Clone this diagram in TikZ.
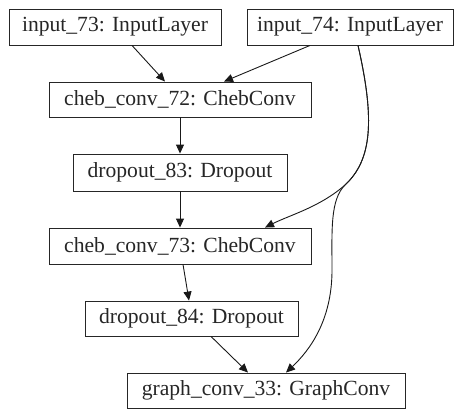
\documentclass[tikz,border=0pt]{standalone}
\usepackage{fontspec}
\setmainfont{Liberation Serif}
\usetikzlibrary{arrows.meta}
\begin{document}
\begin{tikzpicture}[x=1pt,y=-1pt,
  layer/.style={draw=black!85, line width=0.9pt, inner sep=0pt,
    font=\fontsize{21.6}{26}\selectfont, text=black!85},
  edge/.style={draw=black!90, line width=0.9pt,
    -{Triangle[length=9pt,width=8pt]}}]
\useasboundingbox (0,0) rectangle (454,409);
% layers
\node[layer, minimum width=212pt, minimum height=36pt] (in73) at (115,27) {input\_73: InputLayer};
\node[layer, minimum width=206pt, minimum height=36pt] (in74) at (350,27) {input\_74: InputLayer};
\node[layer, minimum width=262pt, minimum height=35pt] (cc72) at (180,99.5) {cheb\_conv\_72: ChebConv};
\node[layer, minimum width=214pt, minimum height=37pt] (do83) at (180,172.5) {dropout\_83: Dropout};
\node[layer, minimum width=262pt, minimum height=36pt] (cc73) at (180,246) {cheb\_conv\_73: ChebConv};
\node[layer, minimum width=213pt, minimum height=35pt] (do84) at (191.5,318.5) {dropout\_84: Dropout};
\node[layer, minimum width=278pt, minimum height=35pt] (gc33) at (266,390.5) {graph\_conv\_33: GraphConv};
% connections
\draw[edge] ([xshift=17pt]in73.south) -- ([xshift=-15pt]cc72.north);
\draw[edge] ([xshift=-40pt]in74.south) -- ([xshift=44pt]cc72.north);
\draw[edge] (cc72.south) -- (do83.north);
\draw[edge] (do83.south) -- (cc73.north);
\draw[edge] ([xshift=8pt]in74.south) .. controls (375,120) and (372,160) .. (345,185)
  .. controls (320,207) and (290,215) .. ([xshift=85pt]cc73.north);
\draw[edge] ([xshift=8pt]in74.south) .. controls (375,120) and (372,160) .. (345,185)
  .. controls (330,200) and (332,230) .. (332,270)
  .. controls (332,320) and (310,350) .. ([xshift=20pt]gc33.north);
\draw[edge] ([xshift=3pt]cc73.south) -- ([xshift=-2.5pt]do84.north);
\draw[edge] ([xshift=19.5pt]do84.south) -- ([xshift=-18pt]gc33.north);
\end{tikzpicture}
\end{document}
